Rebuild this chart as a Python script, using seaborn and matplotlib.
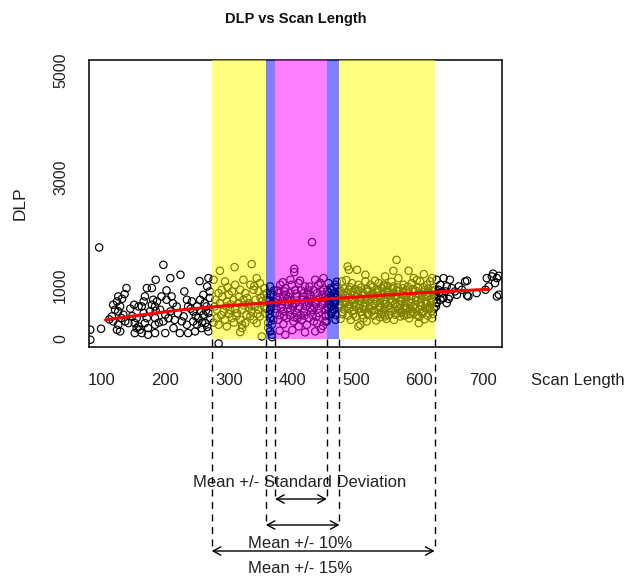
import numpy as np
import pandas as pd
import matplotlib
matplotlib.use("Agg")
import matplotlib.pyplot as plt
import seaborn as sns
from matplotlib.lines import Line2D
from matplotlib.patches import Rectangle

sns.set_style("white")
plt.rcParams['font.family'] = ['Liberation Sans', 'DejaVu Sans']

# ---------------- data (Scan Length, DLP) ----------------
pts_left = [(82, 167), (82, -19), (96, 1698), (99, 186),
            (139, 942), (136, 830), (132, 743), (126, 787), (124, 694), (118, 632), (121, 539), (129, 601),
            (126, 508), (131, 384), (137, 322), (142, 291), (126, 260), (124, 167), (129, 136), (118, 322),
            (116, 415), (134, 446), (151, 632), (158, 601), (163, 601), (166, 694), (168, 787), (171, 942),
            (166, 477), (155, 384), (152, 291), (158, 229), (160, 167), (163, 105), (152, 105), (155, 198),
            (168, 291), (171, 384), (173, 198), (173, 74), (179, 632), (176, 508), (181, 725),
            (197, 1375), (224, 1190), (185, 1097), (208, 1128), (179, 942), (194, 787), (202, 725), (210, 787),
            (187, 694), (184, 601), (192, 539), (200, 446), (197, 322), (184, 384), (184, 260), (184, 105),
            (200, 105), (213, 198), (223, 105), (226, 322), (234, 725), (236, 601), (242, 694), (244, 508),
            (250, 601), (255, 725), (260, 818), (266, 973), (268, 1128), (244, 322), (252, 384), (260, 446),
            (263, 291), (257, 198), (247, 136), (236, 105), (268, 136), (234, 260), (229, 415), (208, 508),
            (218, 601), (265, 601), (268, 477), (254, 1072), (212, 660), (220, 470), (240, 560), (248, 420),
            (256, 520), (262, 660), (270, 760), (271, 380), (258, 300), (266, 220), (205, 380), (190, 300),
            (215, 350), (230, 880), (185, 520), (145, 560), (112, 360), (148, 420), (202, 900), (270, 880),
            (264, 520), (250, 260)]

pts_mid_low = [(286, 1264), (309, 1332), (336, 1388), (276, 1097), (294, 1066), (310, 1004), (323, 1097),
               (334, 1004), (344, 1128), (349, 1035), (284, 849), (289, 911), (300, 818), (305, 880),
               (318, 911), (326, 849), (339, 911), (347, 880), (355, 818), (279, 725), (286, 663), (297, 694),
               (307, 725), (315, 663), (323, 725), (331, 663), (342, 725), (352, 694), (281, 539), (292, 508),
               (302, 539), (313, 477), (321, 539), (328, 446), (336, 508), (347, 539), (355, 601), (281, 384),
               (294, 353), (305, 384), (318, 353), (326, 291), (339, 353), (349, 415), (284, 260), (297, 229),
               (321, 260), (344, 291), (321, 198), (318, 124), (352, 43), (284, -90),
               (278, 600), (290, 780), (296, 600), (303, 640), (310, 560), (316, 780), (329, 760), (335, 620),
               (341, 600), (350, 760), (357, 560), (300, 460), (312, 420), (334, 420), (345, 460), (288, 440),
               (276, 300), (308, 300), (332, 580), (324, 620), (298, 960), (340, 980), (356, 940)]

pts_centre = [(431, 1797), (403, 1301), (403, 1239), (397, 1097), (365, 973), (381, 1004), (389, 942),
              (399, 1004), (410, 1035), (420, 973), (436, 1097), (449, 1128), (441, 1004), (360, 849),
              (370, 818), (378, 849), (386, 787), (397, 849), (407, 787), (418, 849), (428, 818), (439, 849),
              (449, 911), (363, 694), (376, 663), (384, 694), (394, 632), (405, 663), (415, 725), (426, 663),
              (436, 694), (447, 632), (365, 539), (373, 477), (386, 508), (397, 539), (407, 477), (418, 508),
              (431, 539), (441, 477), (452, 539), (365, 384), (378, 353), (391, 384), (402, 322), (415, 353),
              (426, 384), (439, 291), (452, 322), (368, 260), (386, 273), (410, 229), (423, 260), (365, 136),
              (368, 74), (389, 74), (436, 136), (368, 30), (362, 200), (380, 150), (400, 160), (420, 120),
              (445, 180), (361, 760), (367, 600), (371, 900), (375, 760), (382, 580), (388, 880), (392, 740),
              (396, 440), (401, 600), (404, 900), (411, 600), (413, 440), (417, 780), (422, 600), (425, 900),
              (429, 740), (432, 440), (434, 600), (443, 760), (446, 880), (450, 700), (453, 440), (357, 470),
              (362, 300), (372, 680), (380, 440), (394, 780), (408, 380), (434, 320), (448, 240), (455, 600),
              (370, 350), (385, 1050), (412, 1080), (427, 970), (444, 1040), (360, 560),
              (359, 720), (366, 820), (374, 560), (377, 900), (383, 640), (390, 820), (393, 560), (398, 700),
              (406, 840), (409, 560), (414, 900), (419, 680), (424, 820), (428, 580), (433, 900), (437, 640),
              (442, 560), (447, 820), (451, 760), (455, 880), (457, 650), (364, 460), (387, 420), (403, 400),
              (419, 430), (438, 410), (452, 420)]

pts_mid_high = [(487, 1344), (489, 1282), (502, 1282), (515, 1190), (515, 1066), (457, 1035), (468, 1004),
                (478, 1066), (494, 1035), (504, 1004), (523, 1004), (536, 1035), (544, 973), (507, 260),
                (517, 322), (504, 229), (520, 446), (544, 446), (457, 446), (454, 322), (468, 353),
                (564, 1468), (559, 1264), (583, 1264), (607, 1202), (546, 1159), (567, 1128), (591, 1128),
                (601, 1066), (617, 1066), (544, 1004), (559, 973), (575, 1004), (588, 1035), (612, 1004),
                (620, 1128), (599, 291), (580, 446), (572, 477), (578, 539), (562, 446), (546, 415),
                (591, 477), (607, 508), (617, 570),
                (460, 940), (470, 960), (482, 930), (491, 955), (499, 920), (508, 950), (517, 930), (526, 960),
                (533, 925), (541, 945), (550, 980), (558, 930), (566, 955), (574, 940), (582, 970), (590, 925),
                (598, 950), (606, 960), (614, 930), (621, 945),
                (462, 905), (476, 895), (489, 910), (504, 900), (519, 905), (534, 895), (549, 910), (564, 900),
                (579, 905), (594, 895), (609, 910), (622, 900),
                (458, 860), (466, 840), (474, 870), (480, 835), (487, 855), (495, 880), (503, 840), (511, 860),
                (519, 875), (527, 845), (535, 865), (543, 830), (551, 870), (559, 850), (567, 880), (575, 845),
                (583, 860), (591, 875), (599, 840), (607, 865), (615, 850), (622, 880),
                (460, 800), (472, 810), (484, 795), (497, 815), (510, 800), (523, 810), (536, 795), (549, 815),
                (561, 800), (574, 810), (587, 795), (600, 815), (613, 800), (623, 810),
                (456, 760), (463, 740), (471, 770), (478, 745), (485, 760), (493, 735), (500, 775), (509, 750),
                (516, 735), (524, 770), (531, 745), (539, 760), (547, 780), (555, 740), (563, 765), (571, 750),
                (579, 775), (587, 740), (595, 760), (603, 745), (611, 780), (619, 755),
                (458, 700), (470, 710), (483, 695), (495, 715), (507, 700), (520, 710), (533, 695), (545, 715),
                (558, 700), (571, 710), (584, 695), (597, 715), (610, 700), (622, 710),
                (459, 650), (467, 670), (475, 640), (483, 665), (490, 645), (498, 675), (506, 640), (514, 660),
                (522, 680), (530, 645), (538, 665), (546, 640), (554, 670), (562, 650), (570, 640), (578, 675),
                (586, 655), (594, 640), (602, 670), (610, 650), (618, 665),
                (461, 600), (474, 610), (487, 595), (500, 615), (512, 600), (525, 610), (538, 595), (551, 615),
                (564, 600), (577, 610), (590, 595), (603, 615), (615, 600),
                (457, 560), (465, 540), (473, 570), (481, 545), (489, 555), (497, 530), (505, 565), (513, 545),
                (521, 560), (529, 535), (537, 570), (545, 550), (553, 565), (561, 540), (569, 560), (577, 575),
                (585, 545), (593, 560), (601, 540), (609, 570), (616, 555), (623, 560),
                (463, 505), (478, 495), (494, 510), (509, 500), (525, 505), (541, 495), (557, 510), (573, 500),
                (589, 505), (605, 495), (619, 510),
                (461, 470), (469, 440), (479, 455), (488, 430), (496, 460), (510, 440), (518, 470), (528, 430),
                (540, 460), (552, 440), (565, 470), (576, 430), (586, 455), (596, 440), (604, 470), (613, 430),
                (621, 460), (500, 410), (538, 400), (570, 415), (600, 405),
                (476, 370), (492, 350), (512, 380), (532, 340), (548, 370), (560, 350), (584, 380), (608, 360),
                (620, 380), (485, 1090), (530, 1080), (556, 1060), (596, 1090), (470, 1060)]

pts_right = [(627, 1097), (638, 1128), (648, 1097), (633, 1004), (643, 973), (630, 911), (651, 942),
             (662, 973), (672, 1066), (667, 911), (659, 818), (677, 787), (690, 849), (704, 911), (706, 1128),
             (714, 1159), (722, 1128), (719, 1035), (709, 973), (722, 787), (627, 787), (633, 725), (627, 663),
             (638, 756), (643, 663), (648, 787), (635, 849), (641, 880), (656, 880), (675, 1080), (675, 805),
             (716, 1210), (725, 1170), (725, 820), (628, 680), (646, 740), (626, 600), (631, 850)]

# fitted trend (red line)
fit_scan = [106, 150, 180, 223, 271, 320, 360, 412, 454, 517, 570, 622, 709]
fit_dlp = [350, 425, 470, 535, 590, 635, 665, 705, 740, 790, 830, 868, 920]

# shaded intervals (band edges in Scan Length units)
band_edges = [273.2, 358.3, 372.9, 454.3, 474.2, 623.8]
band_colors = [(1, 1, 0, 0.5), (0, 0, 1, 0.5), (1, 0, 1, 0.5), (0, 0, 1, 0.5), (1, 1, 0, 0.5)]
band_labels = ["Mean +/- Standard Deviation", "Mean +/- 10%", "Mean +/- 15%"]

x_ticks = [100, 200, 300, 400, 500, 600, 700]
y_ticks = [0, 1000, 2000, 3000, 4000, 5000]
y_ticklabels = ["0", "1000", "", "3000", "", "5000"]

# ---------------- figure ----------------
W, H = 629, 580
fig = plt.figure(figsize=(W / 100, H / 100), dpi=100)
ax = fig.add_axes([89 / W, 1 - 347 / H, 413 / W, 287 / H])

all_pts = pts_left + pts_mid_low + pts_centre + pts_mid_high + pts_right
df = pd.DataFrame(all_pts, columns=["Scan Length", "DLP"])
sns.scatterplot(data=df, x="Scan Length", y="DLP", ax=ax, marker="o", s=28,
                facecolors="none", edgecolor="black", linewidth=0.85, zorder=2)

for x0, x1, c in zip(band_edges[:-1], band_edges[1:], band_colors):
    ax.add_patch(Rectangle((x0, 0), x1 - x0, 8000, facecolor=c, edgecolor="none", zorder=3))

sns.lineplot(x=fit_scan, y=fit_dlp, ax=ax, color="red", linewidth=2.2, zorder=4)

ax.set_xlim(80, 730)
ax.set_ylim(-154, 5186)
ax.set_xticks(x_ticks)
ax.set_xticklabels([str(t) for t in x_ticks], fontsize=12)
ax.set_yticks(y_ticks)
ax.set_yticklabels(y_ticklabels, rotation=90, va="center", fontsize=11.5)
ax.tick_params(axis="both", direction="out", length=5, width=1, color="black", labelcolor="#222222")
ax.tick_params(axis="x", pad=14)
ax.tick_params(axis="y", pad=10)
for s in ax.spines.values():
    s.set_visible(True)
    s.set_color("black")
    s.set_linewidth(1.1)
ax.set_xlabel("")
ax.set_ylabel("DLP", fontsize=12.5, color="#222222")
ax.yaxis.set_label_coords((28 - 89) / 413, 0.5)

fig.text(531 / W, 1 - 380 / H, "Scan Length", ha="left", va="center", fontsize=12, color="#222222")
fig.text(295.5 / W, 1 - 19 / H, "DLP vs Scan Length", ha="center", va="center",
         fontsize=10.5, fontweight="bold", color="#111111")

# annotation arrows / dashed guide lines
def to_fig(xd, yd):
    px = ax.transData.transform((xd, yd))
    return fig.transFigure.inverted().transform(px)

levels = [(band_edges[2], band_edges[3], 499), (band_edges[1], band_edges[4], 525),
          (band_edges[0], band_edges[5], 551)]
for xa, xb, ypix in levels:
    fy = 1 - ypix / H
    for xe in (xa, xb):
        fx, fy0 = to_fig(xe, 0)
        fig.add_artist(Line2D([fx, fx], [fy0, fy], transform=fig.transFigure, color="black",
                              lw=1.0, ls=(0, (5, 4))))
    ax.annotate("", xy=(xb, fy), xytext=(xa, fy), xycoords=("data", "figure fraction"),
                textcoords=("data", "figure fraction"), annotation_clip=False,
                arrowprops=dict(arrowstyle="<->,head_length=0.55,head_width=0.3", lw=1.0,
                                color="black", shrinkA=0, shrinkB=0))

label_x = 412
for lab, ypix in zip(band_labels, [482.7, 544, 568.3]):
    ax.annotate(lab, xy=(label_x, 1 - ypix / H), xycoords=("data", "figure fraction"),
                ha="center", va="center", fontsize=12, color="#222222", annotation_clip=False)

fig.savefig("out.png", dpi=100)
